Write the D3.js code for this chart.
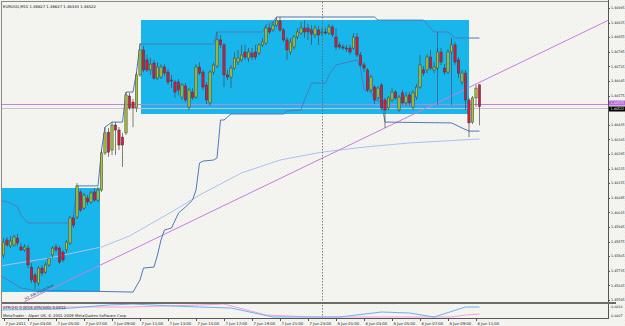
<!DOCTYPE html>
<html>
<head>
<meta charset="utf-8">
<script src="https://cdn.jsdelivr.net/npm/d3@7"></script>
<style>
  body { margin: 0; background: #fff; }
  svg { display: block; }
  text { font-family: "DejaVu Sans", sans-serif; }
</style>
</head>
<body>
<svg id="chart"></svg>
<script>
// EURUSD M15, bars from 7 Jun 2011 01:15 to 8 Jun 2011 11:15
const opens = [
  1.45811,1.45883,1.45854,1.45859,1.45892,1.45849,1.45835,1.45844,1.45753,1.45715,
  1.45676,1.45748,1.45729,1.45763,1.45811,1.45849,1.45844,1.45825,1.45835,1.45868,
  1.45988,1.45993,1.46113,1.46036,1.46084,1.46065,1.46113,1.46074,1.46122,1.46300,
  1.46400,1.46314,1.46434,1.46410,1.46376,1.46396,1.46573,1.46544,1.46516,1.46674,
  1.46794,1.46746,1.46698,1.46731,1.46659,1.46664,1.46712,1.46688,1.46650,1.46640,
  1.46640,1.46568,1.46621,1.46520,1.46592,1.46568,1.46712,1.46688,1.46626,1.46540,
  1.46688,1.46717,1.46842,1.46818,1.46674,1.46664,1.46707,1.46736,1.46746,1.46784,
  1.46755,1.46779,1.46784,1.46779,1.46818,1.46827,1.46899,1.46890,1.46913,1.46933,
  1.46890,1.46842,1.46784,1.46808,1.46856,1.46875,1.46899,1.46899,1.46890,1.46866,
  1.46890,1.46875,1.46880,1.46875,1.46904,1.46856,1.46818,1.46808,1.46803,1.46803,
  1.46803,1.46856,1.46770,1.46722,1.46698,1.46602,1.46616,1.46564,1.46626,1.46554,
  1.46516,1.46554,1.46592,1.46506,1.46588,1.46540,1.46578,1.46520,1.46568,1.46616,
  1.46698,1.46698,1.46760,1.46698,1.46707,1.46784,1.46707,1.46688,1.46784,1.46818,
  1.46746,1.46640,1.46683,1.46554,1.46448,1.46564,1.46627
];
const highs = [
  1.45892,1.45897,1.45902,1.45907,1.45911,1.45868,1.45863,1.45859,1.45772,1.45724,
  1.45758,1.45763,1.45777,1.45796,1.45854,1.45863,1.45854,1.45835,1.45883,1.45998,
  1.46002,1.46156,1.46122,1.46108,1.46098,1.46122,1.46132,1.46137,1.46314,1.46424,
  1.46420,1.46448,1.46448,1.46424,1.46396,1.46592,1.46588,1.46559,1.46688,1.46827,
  1.46813,1.46770,1.46755,1.46746,1.46736,1.46726,1.46726,1.46703,1.46674,1.46650,
  1.46655,1.46635,1.46635,1.46611,1.46611,1.46726,1.46736,1.46698,1.46640,1.46698,
  1.46736,1.46880,1.46866,1.46827,1.46698,1.46722,1.46784,1.46794,1.46818,1.46818,
  1.46803,1.46803,1.46818,1.46827,1.46851,1.46913,1.46918,1.46928,1.46952,1.46952,
  1.46899,1.46856,1.46851,1.46866,1.46899,1.46928,1.46937,1.46918,1.46913,1.46913,
  1.46909,1.46899,1.46899,1.46918,1.46913,1.46899,1.46832,1.46822,1.46818,1.46818,
  1.46875,1.46875,1.46784,1.46736,1.46707,1.46674,1.46626,1.46621,1.46635,1.46564,
  1.46573,1.46611,1.46602,1.46578,1.46602,1.46592,1.46592,1.46602,1.46631,1.46770,
  1.46717,1.46774,1.46794,1.46736,1.46803,1.46803,1.46726,1.46798,1.46851,1.46832,
  1.46760,1.46698,1.46698,1.46564,1.46573,1.46626,1.46627
];
const lows = [
  1.45796,1.45849,1.45844,1.45849,1.45854,1.45830,1.45825,1.45748,1.45676,1.45648,
  1.45662,1.45710,1.45720,1.45753,1.45796,1.45825,1.45768,1.45777,1.45820,1.45859,
  1.45940,1.45983,1.46017,1.46026,1.46050,1.46055,1.46065,1.46065,1.46113,1.46290,
  1.46281,1.46290,1.46290,1.46314,1.46233,1.46386,1.46506,1.46424,1.46496,1.46664,
  1.46688,1.46688,1.46674,1.46650,1.46650,1.46655,1.46669,1.46626,1.46611,1.46564,
  1.46578,1.46554,1.46544,1.46506,1.46554,1.46559,1.46674,1.46602,1.46535,1.46525,
  1.46674,1.46707,1.46803,1.46616,1.46650,1.46611,1.46698,1.46722,1.46736,1.46746,
  1.46736,1.46746,1.46746,1.46770,1.46808,1.46818,1.46870,1.46880,1.46904,1.46880,
  1.46832,1.46746,1.46770,1.46794,1.46846,1.46866,1.46851,1.46842,1.46818,1.46851,
  1.46818,1.46861,1.46866,1.46866,1.46856,1.46794,1.46798,1.46794,1.46784,1.46770,
  1.46794,1.46760,1.46712,1.46688,1.46592,1.46592,1.46535,1.46554,1.46506,1.46420,
  1.46506,1.46544,1.46554,1.46496,1.46530,1.46525,1.46525,1.46506,1.46554,1.46607,
  1.46669,1.46683,1.46698,1.46683,1.46698,1.46722,1.46674,1.46679,1.46774,1.46722,
  1.46659,1.46626,1.46506,1.46376,1.46439,1.46520,1.46433
];
const closes = [
  1.45873,1.45859,1.45878,1.45897,1.45868,1.45835,1.45849,1.45763,1.45691,1.45681,
  1.45748,1.45724,1.45763,1.45796,1.45844,1.45835,1.45777,1.45787,1.45873,1.45988,
  1.45954,1.46142,1.46026,1.46098,1.46065,1.46108,1.46074,1.46122,1.46300,1.46396,
  1.46304,1.46434,1.46410,1.46338,1.46338,1.46578,1.46516,1.46516,1.46674,1.46794,
  1.46698,1.46698,1.46726,1.46659,1.46712,1.46712,1.46683,1.46640,1.46645,1.46592,
  1.46602,1.46626,1.46554,1.46602,1.46564,1.46712,1.46683,1.46616,1.46554,1.46688,
  1.46722,1.46842,1.46818,1.46674,1.46664,1.46707,1.46755,1.46755,1.46770,1.46760,
  1.46784,1.46760,1.46760,1.46818,1.46832,1.46899,1.46880,1.46913,1.46937,1.46890,
  1.46842,1.46794,1.46832,1.46856,1.46880,1.46899,1.46880,1.46880,1.46870,1.46899,
  1.46866,1.46880,1.46875,1.46904,1.46866,1.46808,1.46808,1.46803,1.46798,1.46784,
  1.46856,1.46770,1.46722,1.46707,1.46602,1.46664,1.46554,1.46611,1.46516,1.46506,
  1.46564,1.46592,1.46564,1.46568,1.46540,1.46573,1.46540,1.46588,1.46616,1.46722,
  1.46683,1.46760,1.46707,1.46712,1.46784,1.46736,1.46688,1.46784,1.46818,1.46736,
  1.46683,1.46683,1.46554,1.46444,1.46564,1.46611,1.46522
];

// price channel lines (bar index, price)
const upperBars   = [-1, 2, 4, 5, 7, 19, 20, 21, 27, 28, 29, 31, 34, 35, 37, 38, 39, 60, 61, 74, 75, 77, 78, 106, 107, 120, 123, 127, 129, 136];
const upperPrices = [1.46074,1.46060,1.46041,1.46002,1.45964,1.45964,1.45998,1.46142,1.46142,1.46314,1.46424,1.46448,1.46448,1.46592,1.46592,1.46688,1.46822,1.46822,1.46880,1.46880,1.46913,1.46928,1.46952,1.46952,1.46937,1.46937,1.46880,1.46880,1.46851,1.46851];
const lowerBars   = [-1, 5, 8, 37, 39, 40, 43, 44, 45, 46, 48, 50, 52, 54, 55, 56, 57, 60, 61, 62, 63, 65, 80, 81, 85, 86, 88, 92, 93, 95, 101, 102, 103, 105, 106, 108, 109, 128, 131, 133, 136];
const lowerPrices = [1.45715,1.45652,1.45643,1.45633,1.45691,1.45748,1.45753,1.45811,1.45883,1.45931,1.45940,1.46012,1.46041,1.46074,1.46122,1.46252,1.46261,1.46266,1.46276,1.46458,1.46458,1.46487,1.46487,1.46501,1.46506,1.46554,1.46635,1.46635,1.46674,1.46722,1.46746,1.46707,1.46602,1.46592,1.46554,1.46544,1.46448,1.46444,1.46420,1.46405,1.46405];
const markBars = [124, 128];
const markTops = [1.46880, 1.46851];
const markBottom = 1.46530;

// slow moving average
const maBars   = [-1, 13, 28, 36, 48, 56, 68, 79, 91, 103, 116, 136];
const maValues = [1.45758,1.45796,1.45849,1.45902,1.46017,1.46098,1.46204,1.46266,1.46304,1.46328,1.46348,1.46367];

// ATR sub window
const atr24Bars = [-1, 16, 30, 37, 48, 56, 65, 77, 96, 108, 116, 123, 132, 136];
const atr24     = [0.0013,0.0014,0.0018,0.0019,0.0017,0.0016,0.0015,0.0006,0.0006,0.0011,0.0010,0.0006,0.0016,0.0016];
const atr500Bars = [-1, 36, 56, 63, 75, 88, 128, 132, 136];
const atr500     = [0.0016,0.0016,0.0018,0.0019,0.0008,0.0006,0.0006,0.0008,0.0009];

// objects
const boxStart  = [-1, 39.3];
const boxEnd    = [27.6, 133];
const boxTop    = [1.46132, 1.46937];
const boxBottom = [1.45633, 1.46487];
const trendBars   = [6, 131];
const trendPrices = [1.45587, 1.46598];
const hLinePrice = 1.46535;
const separatorBar = 91;

// axis labels
const priceTicks = [1.46995,1.46925,1.46855,1.46785,1.46715,1.46645,1.46575,1.46505,1.46435,1.46365,
  1.46295,1.46225,1.46155,1.46085,1.46015,1.45945,1.45875,1.45805,1.45735,1.45665,1.45595];
const timeTickBars = [0,7,15,23,31,39,47,55,63,71,79,87,95,103,111,119,127,135];
const timeLabels = ["7 Jun 2011","7 Jun 03:00","7 Jun 05:00","7 Jun 07:00","7 Jun 09:00","7 Jun 11:00",
  "7 Jun 13:00","7 Jun 15:00","7 Jun 17:00","7 Jun 19:00","7 Jun 21:00","7 Jun 23:00",
  "8 Jun 01:00","8 Jun 03:00","8 Jun 05:00","8 Jun 07:00","8 Jun 09:00","8 Jun 11:00"];
const atrTicks = [0.0016, 0.0007];

const width = 625, height = 326;
const plot = {left: 2, right: 608, top: 2, bottom: 302};
const sub = {top: 304, bottom: 318};
const fs = 3.8;   // chart texts
const afs = 3.3;  // right axis texts, fit in the 16px strip

const x = d3.scaleLinear().domain([0, 136]).range([3.5, 479.5]);
const y = d3.scaleLinear().domain([1.45595, 1.46995]).range([300, 8]);
const ya = d3.scaleLinear().domain([0.0007, 0.0016]).range([316, 307]);

const svg = d3.select("#chart").attr("width", width).attr("height", height);
const defs = svg.append("defs");

// faint dither like the screenshot
const pat = defs.append("pattern").attr("id", "bg").attr("width", 4).attr("height", 4)
  .attr("patternUnits", "userSpaceOnUse");
pat.append("rect").attr("width", 4).attr("height", 4).attr("fill", "#f4f4f1");
pat.append("rect").attr("x", 0).attr("y", 0).attr("width", 1).attr("height", 1).attr("fill", "#efe9df");
pat.append("rect").attr("x", 2).attr("y", 2).attr("width", 1).attr("height", 1).attr("fill", "#ededea");

defs.append("clipPath").attr("id", "main").append("rect")
  .attr("x", plot.left).attr("y", plot.top)
  .attr("width", plot.right - plot.left).attr("height", plot.bottom - plot.top);
defs.append("clipPath").attr("id", "subw").append("rect")
  .attr("x", plot.left).attr("y", sub.top)
  .attr("width", plot.right - plot.left).attr("height", sub.bottom - sub.top);

svg.append("rect").attr("width", width).attr("height", height).attr("fill", "url(#bg)");

const g = svg.append("g").attr("clip-path", "url(#main)");

// rectangles
g.selectAll("rect.box").data(boxStart).enter().append("rect")
  .attr("class", "box")
  .attr("x", (d) => Math.round(x(d)))
  .attr("y", (d, i) => Math.round(y(boxTop[i])))
  .attr("width", (d, i) => Math.round(x(boxEnd[i])) - Math.round(x(d)))
  .attr("height", (d, i) => Math.round(y(boxBottom[i])) - Math.round(y(boxTop[i])))
  .attr("fill", "#19b6ec");

// period separator
svg.append("line")
  .attr("x1", x(separatorBar) + 0.5).attr("x2", x(separatorBar) + 0.5)
  .attr("y1", plot.top).attr("y2", sub.bottom)
  .attr("stroke", "#606060").attr("stroke-width", 0.8).attr("stroke-dasharray", "1.5,1.5");

// moving average
const line = d3.line().x((d) => x(d[0])).y((d) => y(d[1]));
g.append("path")
  .datum(maBars.map((b, i) => [b, maValues[i]]))
  .attr("fill", "none").attr("stroke", "#aac2f0").attr("stroke-width", 1)
  .attr("d", line);

// horizontal line and bid line
g.append("line").attr("x1", plot.left).attr("x2", plot.right)
  .attr("y1", Math.round(y(hLinePrice)) + 0.5).attr("y2", Math.round(y(hLinePrice)) + 0.5)
  .attr("stroke", "#c77ee0").attr("stroke-width", 1);
const bid = closes[closes.length - 1];
g.append("line").attr("x1", plot.left).attr("x2", plot.right)
  .attr("y1", Math.round(y(bid)) + 1.5).attr("y2", Math.round(y(bid)) + 1.5)
  .attr("stroke", "#c4c4c4").attr("stroke-width", 1);

// trend line extended as a ray to the right edge
const slope = (trendPrices[1] - trendPrices[0]) / (trendBars[1] - trendBars[0]);
const endBar = x.invert(plot.right);
g.append("line")
  .attr("x1", x(trendBars[0])).attr("y1", y(trendPrices[0]))
  .attr("x2", x(endBar)).attr("y2", y(trendPrices[0] + slope * (endBar - trendBars[0])))
  .attr("stroke", "#c77ee0").attr("stroke-width", 1);
const ang = Math.atan2(y(trendPrices[1]) - y(trendPrices[0]), x(trendBars[1]) - x(trendBars[0])) * 180 / Math.PI;
const lb = 6.2;
g.append("text")
  .attr("transform", `translate(${x(lb)},${y(trendPrices[0] + slope * (lb - trendBars[0])) - 1.2}) rotate(${ang})`)
  .attr("font-size", fs).attr("fill", "#333")
  .text("H1 AM trend line");

// channel lines
g.append("path")
  .datum(upperBars.map((b, i) => [b, upperPrices[i]]))
  .attr("fill", "none").attr("stroke", "#4d7bbb").attr("stroke-width", 1)
  .attr("d", line);
g.append("path")
  .datum(lowerBars.map((b, i) => [b, lowerPrices[i]]))
  .attr("fill", "none").attr("stroke", "#4d7bbb").attr("stroke-width", 1)
  .attr("d", line);
g.selectAll("line.mark").data(markBars).enter().append("line")
  .attr("class", "mark")
  .attr("x1", (d) => x(d)).attr("x2", (d) => x(d))
  .attr("y1", (d, i) => y(markTops[i])).attr("y2", y(markBottom))
  .attr("stroke", "#3d5f8c").attr("stroke-width", 0.8);

// candles
const idx = d3.range(opens.length);
const bw = 2.3;
g.selectAll("line.wick").data(idx).enter().append("line")
  .attr("class", "wick")
  .attr("x1", (i) => x(i)).attr("x2", (i) => x(i))
  .attr("y1", (i) => y(highs[i])).attr("y2", (i) => y(lows[i]))
  .attr("stroke", "#4a4a4a").attr("stroke-width", 0.7);
g.selectAll("rect.body").data(idx).enter().append("rect")
  .attr("class", "body")
  .attr("x", (i) => x(i) - bw / 2)
  .attr("y", (i) => y(Math.max(opens[i], closes[i])))
  .attr("width", bw)
  .attr("height", (i) => Math.max(0.8, Math.abs(y(opens[i]) - y(closes[i]))))
  .attr("fill", (i) => closes[i] >= opens[i] ? "#a9c334" : "#d31a40")
  .attr("stroke", "#3a3a3a").attr("stroke-width", 0.5);

// header
svg.append("text").attr("x", 3).attr("y", 7.5).attr("font-size", fs).attr("fill", "#111")
  .text("EURUSD,M15  " + [opens, highs, lows, closes].map((a) => a[a.length - 1].toFixed(5)).join(" "));

// frame and separators
svg.append("line").attr("x1", 1.5).attr("x2", 1.5).attr("y1", 1).attr("y2", sub.bottom)
  .attr("stroke", "#8a8a8a");
svg.append("line").attr("x1", 1).attr("x2", plot.right).attr("y1", 1.5).attr("y2", 1.5)
  .attr("stroke", "#8a8a8a");
svg.append("line").attr("x1", plot.right + 0.5).attr("x2", plot.right + 0.5).attr("y1", 0).attr("y2", sub.bottom + 1)
  .attr("stroke", "#555");
svg.append("rect").attr("x", plot.left).attr("y", plot.bottom).attr("width", plot.right - plot.left + 8).attr("height", 2)
  .attr("fill", "#6a6a6a");
svg.append("line").attr("x1", plot.left).attr("x2", plot.right + 1).attr("y1", sub.bottom + 0.5).attr("y2", sub.bottom + 0.5)
  .attr("stroke", "#555");

// ATR sub window
const sg = svg.append("g").attr("clip-path", "url(#subw)");
const aline = d3.line().x((d) => x(d[0])).y((d) => ya(d[1]));
sg.append("path").datum(atr500Bars.map((b, i) => [b, atr500[i]]))
  .attr("fill", "none").attr("stroke", "#f2a2d6").attr("stroke-width", 1).attr("d", aline);
sg.append("path").datum(atr24Bars.map((b, i) => [b, atr24[i]]))
  .attr("fill", "none").attr("stroke", "#70b0f2").attr("stroke-width", 1).attr("d", aline);
svg.append("text").attr("x", 3).attr("y", 308.8).attr("font-size", fs).attr("fill", "#111")
  .text("ATR(24) " + atr24[atr24.length - 1].toFixed(4) + "  ATR(500) 0.0012");
svg.append("text").attr("x", 3).attr("y", 317.3).attr("font-size", fs).attr("fill", "#222")
  .text("MetaTrader - Alpari UK, \u00a9 2001-2009 MetaQuotes Software Corp.");

// price axis
const pa = svg.append("g");
pa.selectAll("line").data(priceTicks).enter().append("line")
  .attr("x1", plot.right).attr("x2", plot.right + 2)
  .attr("y1", (d) => Math.round(y(d)) + 0.5).attr("y2", (d) => Math.round(y(d)) + 0.5)
  .attr("stroke", "#555");
pa.selectAll("text").data(priceTicks).enter().append("text")
  .attr("x", plot.right + 3).attr("y", (d) => y(d) + 1.2)
  .attr("font-size", afs).attr("fill", "#222")
  .text((d) => d.toFixed(5));
svg.selectAll("text.atr").data(atrTicks).enter().append("text")
  .attr("class", "atr")
  .attr("x", plot.right + 3).attr("y", (d) => ya(d) + 1.2)
  .attr("font-size", afs).attr("fill", "#222")
  .text((d) => d.toFixed(4));

// price boxes for horizontal line and bid
const tag = (price, dy, bg, fg) => {
  const yy = Math.round(y(price)) + dy;
  svg.append("rect").attr("x", plot.right + 1).attr("y", yy - 2.5).attr("width", 16).attr("height", 5).attr("fill", bg);
  svg.append("text").attr("x", plot.right + 2.5).attr("y", yy + 1.2).attr("font-size", afs).attr("fill", fg)
    .text(price.toFixed(5));
};
tag(hLinePrice, -1, "#b86ad8", "#f0e0ff");
tag(bid, 2, "#000", "#fff");

// time axis
const ta = svg.append("g");
ta.selectAll("line").data(timeTickBars).enter().append("line")
  .attr("x1", (d) => Math.round(x(d)) + 0.5).attr("x2", (d) => Math.round(x(d)) + 0.5)
  .attr("y1", sub.bottom).attr("y2", sub.bottom + 3)
  .attr("stroke", "#555");
ta.selectAll("text").data(timeLabels).enter().append("text")
  .attr("x", (d, i) => Math.round(x(timeTickBars[i])) + 1.5).attr("y", 324.5)
  .attr("font-size", fs).attr("fill", "#222")
  .text((d) => d);
</script>
</body>
</html>
